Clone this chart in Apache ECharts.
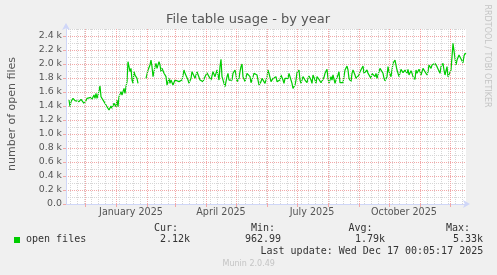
<!DOCTYPE html>
<html>
<head>
<meta charset="utf-8">
<script src="https://cdn.jsdelivr.net/npm/echarts@6/dist/echarts.min.js"></script>
<style>
html,body{margin:0;padding:0;background:#F0F0F0;}
#chart{width:497px;height:275px;}
</style>
</head>
<body>
<div id="chart"></div>
<script>
// x = days since 2024-11-12 (left edge of the 400-day window, right edge = 2025-12-17)
const startDate = '2024-11-12';
const dayIndex = [3,4,5,7,9,11,13,15,16,18,20,21,23,25,26,28,29,30,31,32,34,35,36,38,40,41,43,45,46,48,50,51,52,53,55,56,58,59,60,61,62,64,65,66,67,68,69,71,72,73,
80,81,82,84,85,86,87,88,89,90,91,93,94,95,96,98,100,
101,103,104,105,107,109,110,111,113,115,116,118,119,121,122,123,125,126,127,129,130,131,133,134,135,137,138,139,141,142,143,145,146,147,149,150,151,153,154,155,156,158,159,161,162,163,165,166,167,169,170,171,173,174,175,176,177,179,180,181,183,184,185,187,188,189,191,192,193,195,196,197,199,
201,202,203,205,206,207,209,210,211,213,214,215,217,218,219,221,222,223,225,226,227,229,230,231,233,234,235,237,238,239,241,242,243,245,246,247,249,250,251,253,254,255,257,258,259,261,262,263,265,266,267,269,270,272,273,274,275,276,277,279,281,282,283,285,286,287,289,290,291,293,294,295,297,298,299,
301,302,303,305,306,307,309,310,311,313,314,315,317,318,319,321,322,323,325,326,327,329,330,331,333,334,335,337,338,339,341,342,343,345,346,347,349,350,351,353,354,355,357,358,359,361,362,363,365,366,367,369,370,371,373,374,375,377,378,379,381,382,383,385,386,387,388,389,390,391,393,394,395,397,398,399,400];
const openFiles = [1486,1390,1462,1510,1476,1486,1462,1495,1486,1438,1476,1510,1486,1524,1495,1557,1510,1581,1510,1557,1686,1533,1510,1462,1438,1390,1343,1400,1367,1438,1390,1486,1390,1533,1605,1557,1652,1581,1676,1748,2033,1890,1938,1771,1724,1890,1843,1795,1724,null,
1795,1771,1914,1986,2057,1962,1819,1890,1962,2010,1938,2033,1986,1890,1938,1867,1819,
1700,1795,1724,1771,1700,1771,1781,1771,1748,1724,1771,1914,1867,1843,1771,1724,1795,1890,1867,1795,1771,1890,1867,1771,1795,1748,1733,1819,1876,1867,1819,1771,1795,1890,1819,1843,1914,1771,1962,2067,1819,1724,1676,1819,1867,1771,1781,1771,1867,1914,1843,1748,1795,1890,1962,2000,1819,1748,1771,1867,1876,1819,1733,1819,1867,1890,1843,1771,1700,1748,1795,1781,1724,
1819,1914,1867,1748,1724,1795,1771,1819,1748,1724,1771,1843,1771,1724,1795,1819,1795,1867,1771,1724,1652,1700,1771,1876,1914,1771,1724,1819,1843,1771,1733,1795,1829,1771,1724,1843,1771,1724,1819,1781,1771,1733,1781,1810,1867,1924,1795,1724,1819,1771,1843,1724,1771,1843,1890,1733,1733,1733,1733,1914,1971,1914,1795,1748,1867,1914,1843,1795,1771,1843,1890,1867,1971,1867,1890,
1914,1867,1890,1795,1867,1843,1819,1867,1795,1819,1938,1952,1867,1795,1762,1819,1962,1890,1819,1914,2010,2057,2081,1914,1819,1795,1924,1876,1867,1914,1867,1924,1843,1905,1867,1819,1781,1914,1867,1924,1890,1843,1938,1914,1890,1843,1890,1986,1938,1986,1962,2010,2033,1962,1986,1867,1962,2010,1914,1843,1962,1819,1819,1914,1938,2295,2305,2081,1986,2057,2129,2152,2143,2019,2114,2152,2143];

const monthStartDays = [19,50,81,109,140,170,201,231,262,293,323,354,384];
const weekDays = [4,11,18,25,32,39,46,53,60,67,74,81,88,95,102,109,116,123,130,137,144,151,158,165,172,179,186,193,200,207,214,221,228,235,242,249,256,263,270,277,284,291,298,305,312,319,326,333,340,347,354,361,368,375,382,389,396];
const labelDays = [65,155,246,338];
const labelTexts = ['January 2025','April 2025','July 2025','October 2025'];

const chartTitle = 'File table usage - by year';
const yAxisName = 'number of open files';
const seriesName = 'open files';
const statHeaders = ['Cur:','Min:','Avg:','Max:'];
const statValues = ['2.12k','962.99','1.79k','5.33k'];
const lastUpdate = 'Last update: Wed Dec 17 00:05:17 2025';
const footer = 'Munin 2.0.49';
const watermark = 'RRDTOOL / TOBI OETIKER';

const lineData = dayIndex.map((d, i) => [d, openFiles[i] === null ? '-' : openFiles[i]]);

const MGRID = '#F2A8A8';
const GRID = '#D6D6D6';
const AXIS = '#CFD6F8';
const FONT = '#555555';
const mono = 'DejaVu Sans Mono';
const sans = 'DejaVu Sans';

const chart = echarts.init(document.getElementById('chart'), null, {renderer: 'canvas'});

const statHeaderX = [154, 251, 348.5, 446];
const statValueX = [160, 245, 355, 453];

const graphics = [
  {type:'text', x:248, y:20, style:{text:chartTitle, font:'13px ' + sans, fill:FONT, align:'center', verticalAlign:'middle'}},
  {type:'text', x:12, y:114, rotation:Math.PI/2, style:{text:yAxisName, font:'11px ' + sans, fill:FONT, align:'center', verticalAlign:'middle'}},
  {type:'text', x:487.5, y:56, rotation:-Math.PI/2, style:{text:watermark, font:'8px ' + sans, fill:'#C4C4C4', align:'center', verticalAlign:'middle'}},
  {type:'rect', shape:{x:14, y:237, width:6, height:6}, style:{fill:'#00CC00'}},
  {type:'text', x:26, y:239.7, style:{text:seriesName, font:'10px ' + mono, fill:'#333', align:'left', verticalAlign:'middle'}},
  {type:'text', x:260.5, y:251.3, style:{text:lastUpdate, font:'10px ' + mono, fill:'#333', align:'left', verticalAlign:'middle'}},
  {type:'text', x:248.7, y:264, style:{text:footer, font:'8px ' + sans, fill:'#C4C4C4', align:'center', verticalAlign:'middle'}}
];
statHeaders.forEach((t, i) => graphics.push({type:'text', x:statHeaderX[i], y:228.3, style:{text:t, font:'10px ' + mono, fill:'#333', align:'left', verticalAlign:'middle'}}));
statValues.forEach((t, i) => graphics.push({type:'text', x:statValueX[i], y:239.7, style:{text:t, font:'10px ' + mono, fill:'#333', align:'left', verticalAlign:'middle'}}));

// vertical grid lines are placed at the centre of the day's pixel column so they stay crisp
const vLine = (d) => ({xAxis: d + 0.5});

chart.setOption({
  backgroundColor:'#F0F0F0',
  animation:false,
  grid:{left:66, right:31, top:29, bottom:71, show:true, backgroundColor:'#FFFFFF', borderWidth:0},
  xAxis:{
    type:'value', min:0, max:400,
    axisLine:{show:true, lineStyle:{color:AXIS, width:1}, symbol:['none','arrow'], symbolSize:[6,7], symbolOffset:[0,4]},
    axisTick:{show:true, customValues:monthStartDays, length:3, lineStyle:{color:MGRID}},
    axisLabel:{customValues:labelDays, margin:3, fontFamily:sans, fontSize:9.6, color:FONT,
      formatter:(v) => { const i = labelDays.indexOf(Math.round(v)); return i >= 0 ? labelTexts[i] : ''; }},
    splitLine:{show:false}
  },
  yAxis:[
    {type:'value', min:0, max:2500, interval:100, position:'left',
      axisLine:{show:false}, axisTick:{show:false}, axisLabel:{show:false},
      splitLine:{show:true, showMinLine:false, lineStyle:{color:GRID, type:[1,1], width:1}}},
    {type:'value', min:0, max:2500, interval:200, position:'left',
      axisLine:{show:true, lineStyle:{color:AXIS, width:1}, symbol:['none','arrow'], symbolSize:[6,7], symbolOffset:[0,6]},
      axisTick:{show:true, length:3, lineStyle:{color:MGRID}},
      axisLabel:{margin:4, fontFamily:sans, fontSize:9.4, color:FONT, showMaxLabel:false,
        formatter:(v) => v === 0 ? '0.0' : (v % 200 === 0 ? (v / 1000).toFixed(1) + ' k' : '')},
      splitLine:{show:true, showMinLine:false, showMaxLine:false, lineStyle:{color:MGRID, type:[1,1], width:1}}}
  ],
  series:[
    {type:'line', data:[], silent:true, z:1, yAxisIndex:1,
      markLine:{silent:true, animation:false, symbol:['none','none'], label:{show:false},
        lineStyle:{color:GRID, type:[1,1], width:1}, emphasis:{disabled:true},
        data: weekDays.map(vLine)}},
    {type:'line', data:[], silent:true, z:1, yAxisIndex:1,
      markLine:{silent:true, animation:false, symbol:['none','none'], label:{show:false},
        lineStyle:{color:MGRID, type:[1,1], width:1}, emphasis:{disabled:true},
        data: monthStartDays.map(vLine)}},
    {name:seriesName, type:'line', data:lineData, yAxisIndex:1, showSymbol:false, connectNulls:false, z:3,
      lineStyle:{color:'#00CC00', width:1.2}, itemStyle:{color:'#00CC00'}}
  ],
  graphic:graphics
});
</script>
</body>
</html>
